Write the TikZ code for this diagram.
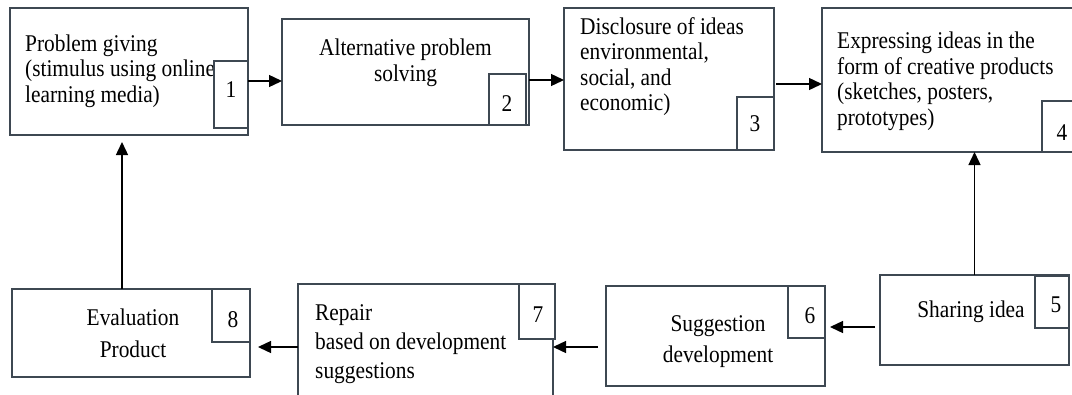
\documentclass[tikz,border=0pt]{standalone}
\usepackage{fontspec}
% slightly condensed serif: taller letters at the same text width
\setmainfont{Liberation Serif}[FakeStretch=0.89]
\usetikzlibrary{arrows.meta}
\definecolor{edge}{RGB}{62,72,82}
\begin{document}
\begin{tikzpicture}[x=1pt,y=-1pt,
  frame/.style={draw=edge, line width=1.4pt, fill=white, inner sep=0pt, outer sep=0pt, anchor=north west},
  % multi-line texts are anchored at the baseline of their last line
  txt/.style={font=\fontsize{24}{25.5}\selectfont, inner sep=0pt, anchor=base west, align=left},
  ctxt/.style={font=\fontsize{24}{25.5}\selectfont, inner sep=0pt, anchor=base, align=center},
  num/.style={font=\fontsize{24}{25}\selectfont, inner sep=0pt, anchor=base},
  link/.style={draw=black, line width=1.4pt, -{Triangle[length=13pt,width=12pt]}}]
\useasboundingbox[fill=white] (0,0) rectangle (1072,394);
\clip (0,0) rectangle (1072,394);

% step boxes
\node[frame, minimum width=238, minimum height=127] (b1) at (10,8) {};
\node[frame, minimum width=247, minimum height=106] (b2) at (282,19) {};
\node[frame, minimum width=210, minimum height=142] (b3) at (564,8) {};
\node[frame, minimum width=258, minimum height=144] (b4) at (822,8) {};
\node[frame, minimum width=189, minimum height=90]  (b5) at (880,275) {};
\node[frame, minimum width=219, minimum height=100] (b6) at (606,286) {};
\node[frame, minimum width=255, minimum height=120] (b7) at (298,284) {};
\node[frame, minimum width=238, minimum height=88]  (b8) at (12,289) {};

% step texts
\node[txt] (x1) at (25,102) {Problem giving\\(stimulus using online\\learning media)};
\node[ctxt] (x2) at (405.5,81) {Alternative problem\\solving};
\node[txt] (x3) at (580,110.5) {Disclosure of ideas\\environmental,\\social, and\\economic)};
\node[txt] (x4) at (837,125) {Expressing ideas in the\\form of creative products\\(sketches, posters,\\prototypes)};
\node[ctxt] (x5) at (971,317) {Sharing idea};
\node[ctxt, font=\fontsize{24}{31}\selectfont] (x6) at (718,362) {Suggestion\\development};
\node[txt, font=\fontsize{24}{29}\selectfont] (x7) at (315,378) {Repair\\based on development\\suggestions};
\node[ctxt, font=\fontsize{24}{32}\selectfont] (x8) at (133,357) {Evaluation\\Product};

% number tags
\node[frame, minimum width=34, minimum height=67] (t1) at (214,61) {};
\node[frame, minimum width=37, minimum height=51] (t2) at (489,74) {};
\node[frame, minimum width=37, minimum height=53] (t3) at (737,97) {};
\node[frame, minimum width=40, minimum height=51] (t4) at (1042,101) {};
\node[frame, minimum width=34, minimum height=52] (t5) at (1035,276) {};
\node[frame, minimum width=37, minimum height=52] (t6) at (788,286) {};
\node[frame, minimum width=36, minimum height=55] (t7) at (519,284) {};
\node[frame, minimum width=38, minimum height=53] (t8) at (212,289) {};

\node[num] (n1) at (231,97) {1};
\node[num] (n2) at (507,111) {2};
\node[num] (n3) at (755,131) {3};
\node[num] (n4) at (1062,140) {4};
\node[num] (n5) at (1056,312) {5};
\node[num] (n6) at (810,323) {6};
\node[num] (n7) at (538,322) {7};
\node[num] (n8) at (233,327) {8};

% flow connectors
\draw[link] ([yshift=13.5pt]t1.east) -- ([yshift=13.5pt]t1.east -| b2.west);
\draw[link] ([yshift=-8pt]b2.east) -- ([yshift=-8pt]b2.east -| b3.west);
\draw[link, shorten <=2pt] ([yshift=-5pt]b3.east) -- ([yshift=-5pt]b3.east -| b4.west);
\draw[link] (b5.north) -- (b5.north |- b4.south);
\draw[link, shorten <=5pt, shorten >=5pt] ([yshift=-7pt]b5.west) -- ([yshift=-7pt]b5.west -| b6.east);
\draw[link, shorten <=8pt] ([yshift=-11pt]b6.west) -- ([yshift=-11pt]b6.west -| b7.east);
\draw[link, shorten >=8pt] ([yshift=-3pt]b7.west) -- ([yshift=-3pt]b7.west -| b8.east);
\draw[link, shorten >=7pt] ([xshift=-9pt]b8.north) -- ([xshift=-9pt]b8.north |- b1.south);
\end{tikzpicture}
\end{document}
